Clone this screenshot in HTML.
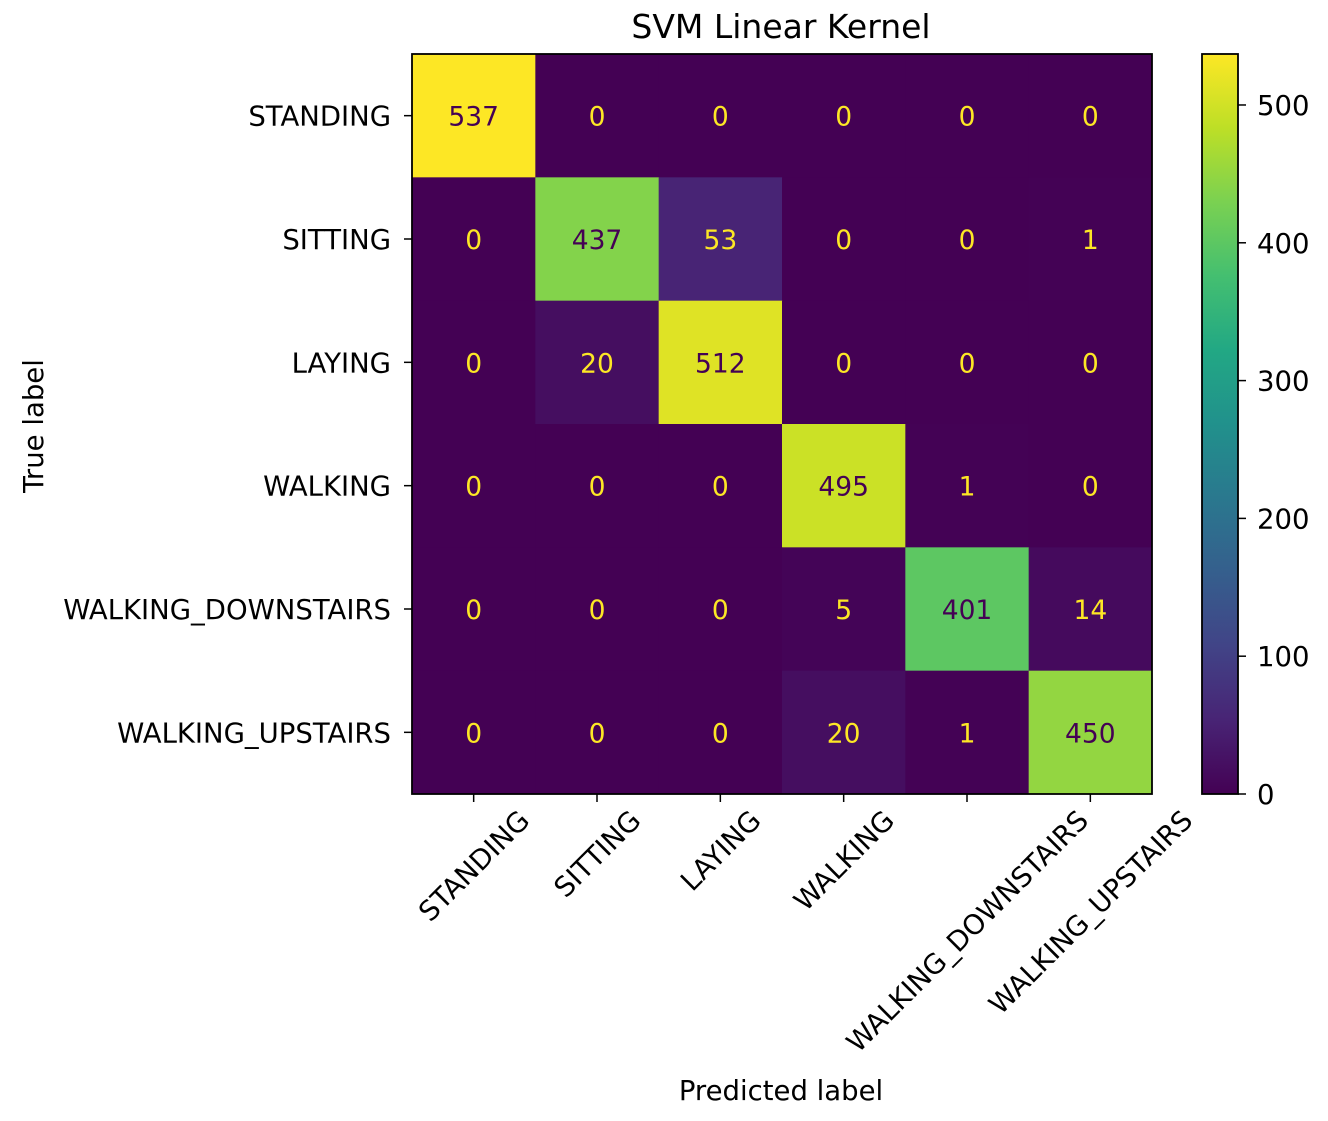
<!DOCTYPE html>
<html><head><meta charset="utf-8"><style>
html,body{margin:0;padding:0;background:#fff;}
svg text{font-family:"DejaVu Sans","Liberation Sans",sans-serif;}
</style></head><body>
<svg id="chart" width="1328" height="1116" xmlns="http://www.w3.org/2000/svg">
<defs>
<linearGradient id="vir" x1="0" y1="1" x2="0" y2="0">
<stop offset="0" stop-color="#440154"/><stop offset="0.1" stop-color="#482475"/>
<stop offset="0.2" stop-color="#414487"/><stop offset="0.3" stop-color="#355f8d"/>
<stop offset="0.4" stop-color="#2a788e"/><stop offset="0.5" stop-color="#21918c"/>
<stop offset="0.6" stop-color="#22a884"/><stop offset="0.7" stop-color="#44bf70"/>
<stop offset="0.8" stop-color="#7ad151"/><stop offset="0.9" stop-color="#bddf26"/>
<stop offset="1" stop-color="#fde725"/>
</linearGradient>
</defs>
</svg>
<script>
const labels = ["STANDING","SITTING","LAYING","WALKING","WALKING_DOWNSTAIRS","WALKING_UPSTAIRS"];
const row0 = [537,0,0,0,0,0];
const row1 = [0,437,53,0,0,1];
const row2 = [0,20,512,0,0,0];
const row3 = [0,0,0,495,1,0];
const row4 = [0,0,0,5,401,14];
const row5 = [0,0,0,20,1,450];
const matrix = [row0,row1,row2,row3,row4,row5];
const cbTicks = [0,100,200,300,400,500];

const NS="http://www.w3.org/2000/svg";
const svg=document.getElementById('chart');
function el(tag,attrs,parent){const e=document.createElementNS(NS,tag);for(const k in attrs)e.setAttribute(k,attrs[k]);(parent||svg).appendChild(e);return e;}
const stops=[[0,[68,1,84]],[0.1,[72,36,117]],[0.2,[65,68,135]],[0.3,[53,95,141]],[0.4,[42,120,142]],[0.5,[33,145,140]],[0.6,[34,168,132]],[0.7,[68,191,112]],[0.8,[122,209,81]],[0.9,[189,223,38]],[1,[253,231,37]]];
function viridis(t){t=Math.max(0,Math.min(1,t));for(let i=1;i<stops.length;i++){if(t<=stops[i][0]){const a=stops[i-1],b=stops[i];const f=(t-a[0])/(b[0]-a[0]);const c=a[1].map((v,j)=>Math.round(v+(b[1][j]-v)*f));return `rgb(${c})`;}}return 'rgb(253,231,37)';}
const X0=412,Y0=54,W=740,H=740,n=labels.length,cw=W/n,ch=H/n;
const FS=27.5;
let vmax=0;matrix.forEach(r=>r.forEach(v=>{if(v>vmax)vmax=v;}));
const cx=i=>X0+cw*(i+0.5), cy=i=>Y0+ch*(i+0.5);
const t=el('text',{x:781,y:38,'font-size':33,'text-anchor':'middle',fill:'#000'});t.textContent='SVM Linear Kernel';


matrix.forEach((r,i)=>r.forEach((v,j)=>{
  const rc=el('rect',{x:X0+cw*j,y:Y0+ch*i,width:cw+0.5,height:ch+0.5,fill:viridis(v/vmax)});
  
  
}));
matrix.forEach((r,i)=>r.forEach((v,j)=>{
  const tx=el('text',{x:cx(j),y:cy(i)+10,'font-size':26.5,'text-anchor':'middle',fill:(v/vmax>0.5)?'#440154':'#fde725'});
  tx.textContent=v;
  
  
}));
const fr=el('rect',{x:X0,y:Y0,width:W,height:H,fill:'none',stroke:'#000','stroke-width':1.8});


labels.forEach((l,i)=>{
  el('line',{x1:X0-8,x2:X0,y1:cy(i),y2:cy(i),stroke:'#000','stroke-width':1.5});
  const yl=el('text',{x:X0-21,y:cy(i)+10,'font-size':FS,'text-anchor':'end',fill:'#000'});yl.textContent=l;
  
  
  el('line',{x1:cx(i),x2:cx(i),y1:Y0+H,y2:Y0+H+8,stroke:'#000','stroke-width':1.5});
  const xl=el('text',{x:cx(i),y:0,'font-size':FS,'text-anchor':'middle',fill:'#000'});xl.textContent=l;
  const L=xl.getComputedTextLength();
  const my=Y0+H+14+(L+20)*0.7071/2;
  xl.setAttribute('y',my+10);
  xl.setAttribute('transform',`rotate(-45 ${cx(i)} ${my})`);
  
  
});
const yt=el('text',{x:0,y:0,'font-size':FS,'text-anchor':'middle',fill:'#000',transform:'translate(43,426) rotate(-90)'});yt.textContent='True label';


const xt=el('text',{x:781,y:1100,'font-size':FS,'text-anchor':'middle',fill:'#000'});xt.textContent='Predicted label';


const CBX=1202,CBW=36;
const cb=el('rect',{x:CBX,y:Y0,width:CBW,height:H,fill:'url(#vir)',stroke:'#000','stroke-width':1.8});


cbTicks.forEach(v=>{
  const y=Y0+H-H*v/vmax;
  el('line',{x1:CBX+CBW,x2:CBX+CBW+8,y1:y,y2:y,stroke:'#000','stroke-width':1.5});
  const ct=el('text',{x:CBX+CBW+19,y:y+10,'font-size':FS,fill:'#000'});ct.textContent=v;
  
  
});
</script>
</body></html>
